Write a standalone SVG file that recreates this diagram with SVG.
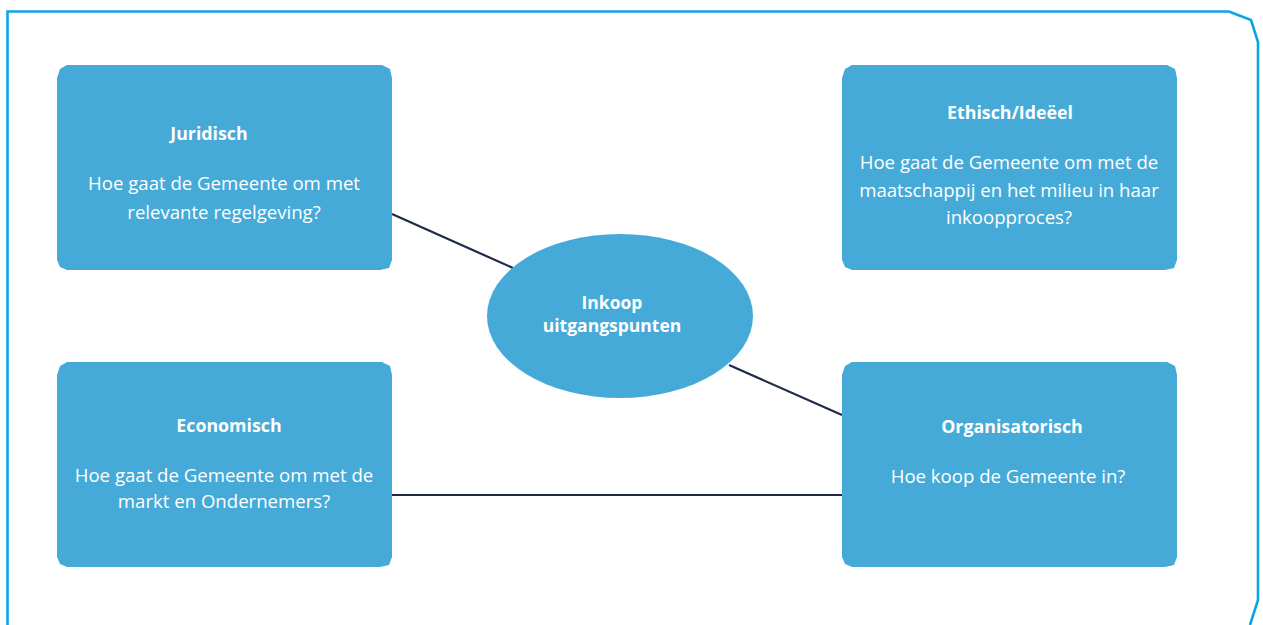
<svg xmlns="http://www.w3.org/2000/svg" width="1263" height="625" viewBox="0 0 1263 625">
<style>
.box{fill:#45aad8}
.t{font-family:"Open Sans","Liberation Sans",sans-serif;font-size:18.6px;fill:#ffffff;text-anchor:middle}
.b{font-weight:bold;font-size:17.8px}
.m{font-weight:bold;font-size:17.5px}
.c{stroke:#1f2a48;stroke-width:2.2;fill:none}
</style>
<rect width="1263" height="625" fill="#ffffff"/>
<path d="M7.5,625 V11.5 H1229 L1251,20 L1258,42 V600 L1250,625" fill="none" stroke="#0ca4e6" stroke-width="2.6"/>
<g id="connectors">
<line class="c" x1="392" y1="214" x2="513" y2="268"/>
<line class="c" x1="729" y1="365" x2="842" y2="415"/>
<line class="c" x1="392" y1="495" x2="842" y2="495"/>
</g>
<g id="juridisch">
<path class="box" d="M67,65 H382 L390,69 L392,78 V260 L389,268 L380,270 H67 L60,267 L57,260 V78 L60,69 Z"/>
<text class="t b" x="209" y="140">Juridisch</text>
<text class="t" x="224" y="190">Hoe gaat de Gemeente om met</text>
<text class="t" x="224" y="219">relevante regelgeving?</text>
</g>
<g id="ethisch">
<path class="box" d="M852,65 H1167 L1175,69 L1177,78 V260 L1174,268 L1165,270 H852 L845,267 L842,260 V78 L845,69 Z"/>
<text class="t b" x="1010" y="119">Ethisch/Ideëel</text>
<text class="t" x="1009" y="169">Hoe gaat de Gemeente om met de</text>
<text class="t" x="1009" y="197">maatschappij en het milieu in haar</text>
<text class="t" x="1009" y="224">inkoopproces?</text>
</g>
<g id="economisch">
<path class="box" d="M67,362 H382 L390,366 L392,375 V557 L389,565 L380,567 H67 L60,564 L57,557 V375 L60,366 Z"/>
<text class="t b" x="229" y="432">Economisch</text>
<text class="t" x="224" y="482">Hoe gaat de Gemeente om met de</text>
<text class="t" x="224" y="508">markt en Ondernemers?</text>
</g>
<g id="organisatorisch">
<path class="box" d="M852,362 H1167 L1175,366 L1177,375 V557 L1174,565 L1165,567 H852 L845,564 L842,557 V375 L845,366 Z"/>
<text class="t b" x="1012" y="433">Organisatorisch</text>
<text class="t" x="1008" y="483">Hoe koop de Gemeente in?</text>
</g>
<g id="inkoop">
<ellipse class="box" cx="620" cy="316" rx="133" ry="82"/>
<text class="t m" x="612" y="309">Inkoop</text>
<text class="t m" x="612" y="332">uitgangspunten</text>
</g>
</svg>
